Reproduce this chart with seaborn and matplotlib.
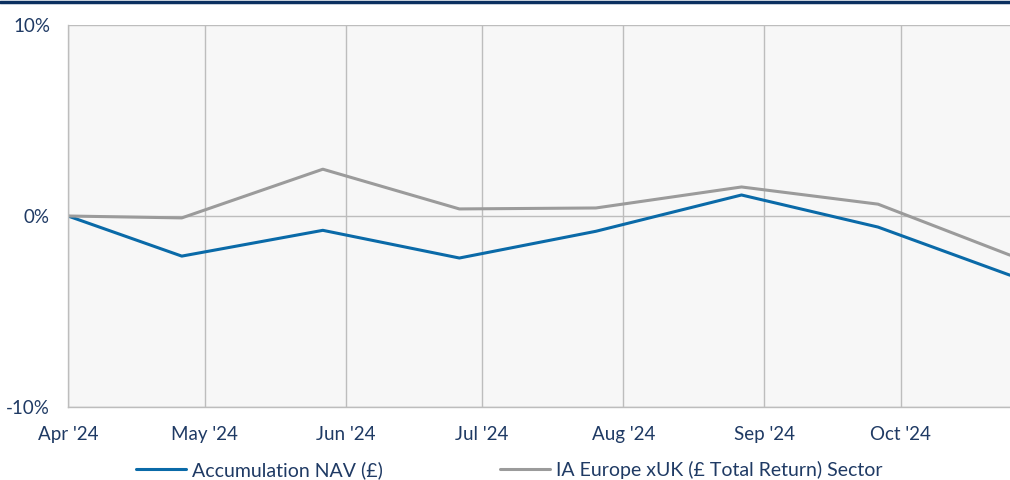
import pandas as pd
import numpy as np
import matplotlib.pyplot as plt
import matplotlib.dates as mdates
import matplotlib.ticker as mticker
import seaborn as sns

dates = ['2024-04-01', '2024-04-26', '2024-05-27', '2024-06-26',
         '2024-07-26', '2024-08-27', '2024-09-26', '2024-10-25']
nav = [0.0, -2.1, -0.75, -2.2, -0.8, 1.1, -0.58, -3.1]
sector = [0.0, -0.1, 2.45, 0.37, 0.42, 1.52, 0.62, -2.05]
tick_months = ['2024-04-01', '2024-05-01', '2024-06-01', '2024-07-01',
               '2024-08-01', '2024-09-01', '2024-10-01']
nav_name = 'Accumulation NAV (£)'
sector_name = 'IA Europe xUK (£ Total Return) Sector'

df = pd.DataFrame({'date': pd.to_datetime(dates), nav_name: nav, sector_name: sector})
df_long = df.melt(id_vars='date', var_name='series', value_name='ret')

sns.set_style("white")
plt.rcParams['font.family'] = ['Lato', 'DejaVu Sans']
text_col = '#1f3a64'

fig = plt.figure(figsize=(10.1, 4.8), dpi=100)
ax = fig.add_axes([68/1010, 73/480, 942/1010, 382/480])
ax.set_facecolor('#f7f7f7')

sns.lineplot(data=df_long, x='date', y='ret', hue='series',
             palette={nav_name: '#0a6aa8', sector_name: '#9b9b9b'},
             linewidth=2.2, ax=ax, legend=True)

ax.set_xlim(pd.Timestamp('2024-04-01'), pd.Timestamp('2024-10-25'))
ax.set_ylim(-10, 10)
ax.set_yticks([-10, 0, 10])
ax.yaxis.set_major_formatter(mticker.FuncFormatter(lambda v, p: f'{v:.0f}%'))
ax.set_xticks(pd.to_datetime(tick_months))
ax.xaxis.set_major_formatter(mdates.DateFormatter("%b '%y"))
ax.set_xlabel('')
ax.set_ylabel('')

ax.grid(True, color='#bdbdbd', linewidth=1)
ax.set_axisbelow(True)
for s in ['top', 'right']:
    ax.spines[s].set_visible(False)
for s in ['left', 'bottom']:
    ax.spines[s].set_color('#bdbdbd')
    ax.spines[s].set_linewidth(1)
ax.tick_params(axis='y', length=6, color='#bdbdbd', colors=text_col, labelsize=13.5, pad=7)
ax.tick_params(axis='x', length=0, colors=text_col, labelsize=13.5, pad=14)

handles, labels = ax.get_legend_handles_labels()
ax.legend(handles, labels, loc='center', bbox_to_anchor=(0.504, 1 - 470/480),
          bbox_transform=fig.transFigure,
          ncol=2, frameon=False, fontsize=14, handlelength=2.6, columnspacing=6.0,
          labelcolor=text_col, handletextpad=0.3, borderpad=0)

fig.add_artist(plt.Line2D([0, 1], [1 - 1.5/480, 1 - 1.5/480], color='#0b3060',
                          linewidth=2.5, transform=fig.transFigure))

plt.savefig('out.png', dpi=100)
